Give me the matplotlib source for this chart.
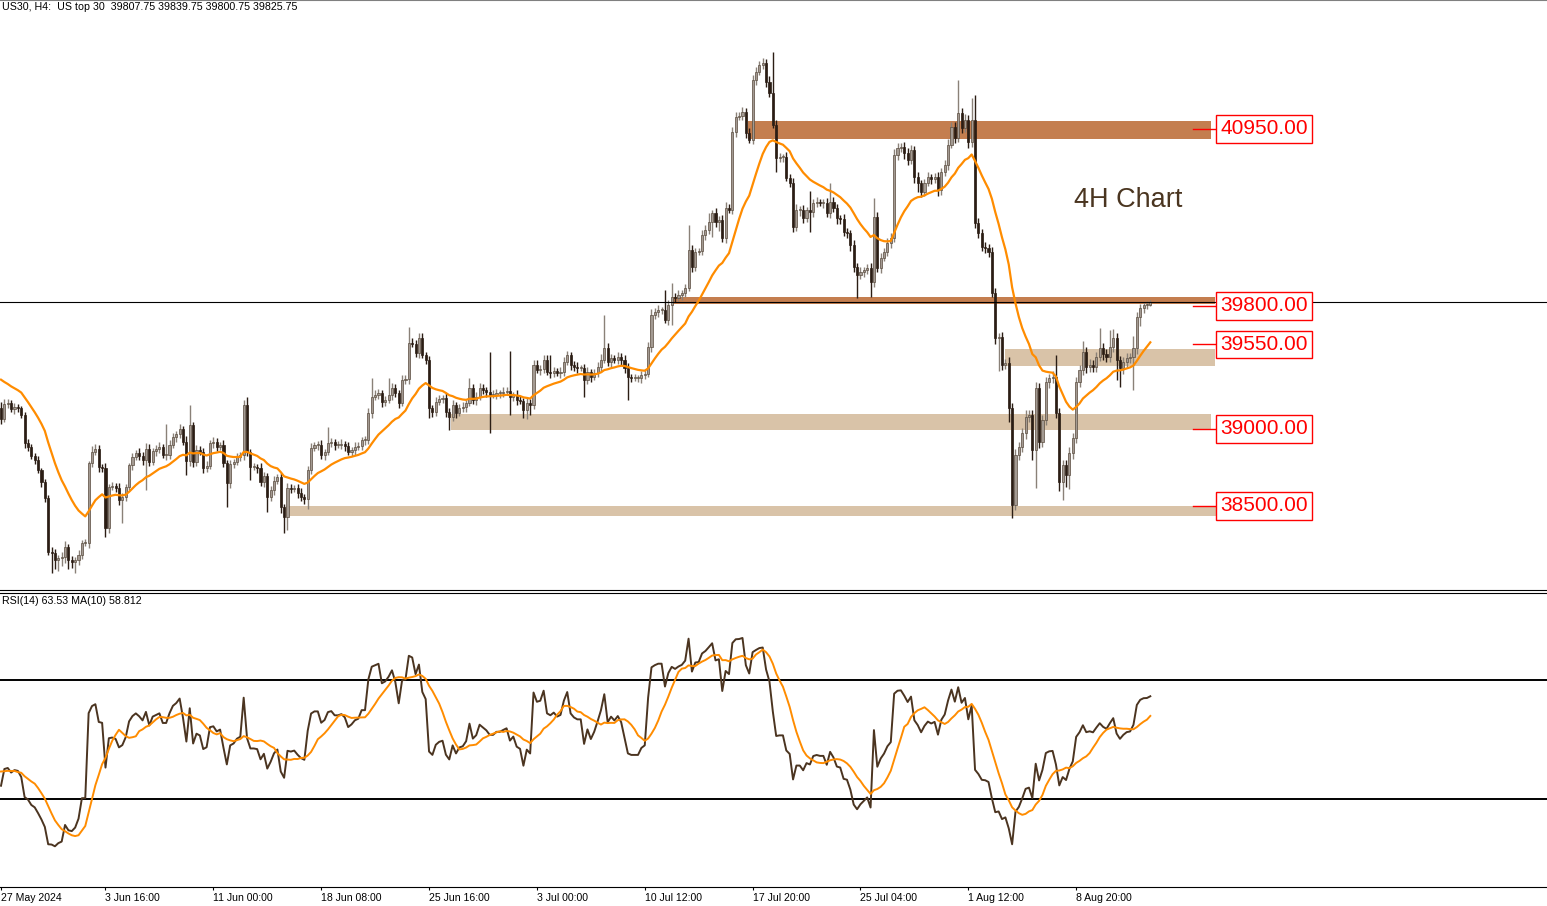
import numpy as np
import pandas as pd
import matplotlib
matplotlib.use("Agg")
import matplotlib.pyplot as plt
from matplotlib.patches import Rectangle

plt.rcParams['font.family'] = ['Liberation Sans', 'DejaVu Sans']

# US30 H4 closes (one per 4h bar)
# a few bars before the window, only so the EMA(20) / RSI(14) start where they do
prior_closes = [39514, 39579, 39475, 39540, 39436, 39501, 39397, 39462, 39371, 39436,
                39332, 39410, 39319, 39371, 39267, 39345, 39241, 39293, 39189, 39137]

closes = [
    39065, 39163, 39169, 39130, 39143, 39137, 39091, 38909, 38883, 38825,
    38799, 38734, 38656, 38552, 38201, 38194, 38149, 38162, 38168, 38233,
    38149, 38136, 38149, 38181, 38259, 38259, 38779, 38851, 38870, 38753,
    38747, 38357, 38623, 38630, 38617, 38539, 38558, 38623, 38766, 38818,
    38844, 38825, 38799, 38870, 38786, 38857, 38870, 38883, 38831, 38831,
    38896, 38948, 38968, 39000, 38916, 38792, 39026, 38786, 38864, 38851,
    38747, 38760, 38909, 38916, 38883, 38896, 38779, 38649, 38773, 38786,
    38818, 38831, 39156, 38851, 38753, 38753, 38747, 38656, 38695, 38558,
    38604, 38662, 38688, 38493, 38428, 38617, 38610, 38617, 38584, 38558,
    38545, 38734, 38877, 38896, 38896, 38831, 38851, 38909, 38916, 38896,
    38896, 38903, 38890, 38851, 38864, 38883, 38890, 38929, 38929, 39104,
    39208, 39221, 39234, 39176, 39189, 39221, 39267, 39234, 39169, 39319,
    39325, 39559, 39553, 39494, 39592, 39481, 39449, 39137, 39111, 39176,
    39195, 39202, 39111, 39078, 39156, 39104, 39137, 39143, 39169, 39267,
    39189, 39208, 39267, 39254, 39241, 39221, 39221, 39234, 39234, 39241,
    39247, 39208, 39221, 39189, 39182, 39124, 39169, 39156, 39416, 39384,
    39390, 39449, 39371, 39364, 39377, 39364, 39371, 39436, 39481, 39416,
    39403, 39397, 39397, 39319, 39371, 39338, 39364, 39403, 39449, 39527,
    39436, 39462, 39449, 39468, 39449, 39397, 39338, 39332, 39332, 39332,
    39351, 39358, 39533, 39741, 39761, 39774, 39774, 39709, 39806, 39858,
    39852, 39871, 39884, 39917, 40164, 40053, 40151, 40157, 40261, 40294,
    40346, 40404, 40346, 40359, 40242, 40437, 40424, 40931, 41028, 41035,
    41061, 40924, 40879, 41269, 41321, 41366, 41379, 41256, 41184, 40976,
    40762, 40768, 40768, 40632, 40599, 40313, 40424, 40424, 40372, 40424,
    40411, 40469, 40476, 40469, 40469, 40404, 40476, 40437, 40372, 40365,
    40281, 40274, 40196, 40053, 40001, 40021, 40034, 40047, 39956, 40378,
    40047, 40112, 40151, 40209, 40242, 40781, 40827, 40833, 40794, 40749,
    40814, 40638, 40599, 40541, 40599, 40638, 40625, 40638, 40554, 40671,
    40716, 40846, 40963, 40892, 41054, 40957, 41009, 40866, 41009, 40339,
    40274, 40183, 40177, 40151, 39884, 39592, 39598, 39416, 39429, 39137,
    38506, 38831, 38883, 38974, 39078, 39091, 38864, 39267, 38916, 39059,
    39306, 39332, 39338, 39104, 38656, 38766, 38701, 38844, 38942, 39306,
    39384, 39501, 39403, 39416, 39403, 39468, 39527, 39488, 39468, 39533,
    39592, 39449, 39397, 39436, 39462, 39468, 39527, 39728, 39787, 39806,
    39808, 39825.75,
]

# wick lengths above / below the body, in points
up_wick = [
    40, 30, 25, 20, 25, 20, 15, 20, 25, 20,
    20, 25, 15, 20, 20, 30, 25, 20, 35, 40,
    20, 25, 20, 30, 20, 25, 15, 40, 30, 25,
    20, 30, 20, 25, 20, 30, 25, 20, 15, 25,
    20, 30, 25, 40, 30, 20, 25, 30, 20, 200,
    30, 25, 20, 35, 20, 40, 130, 20, 30, 25,
    25, 30, 20, 35, 25, 20, 30, 20, 25, 20,
    25, 20, 33, 52, 20, 25, 20, 30, 25, 20,
    25, 30, 20, 25, 20, 30, 25, 20, 25, 30,
    20, 25, 30, 20, 25, 30, 20, 105, 25, 20,
    25, 30, 20, 25, 20, 30, 25, 20, 25, 30,
    125, 30, 25, 20, 25, 110, 30, 25, 20, 35,
    25, 105, 30, 25, 35, 30, 20, 25, 20, 30,
    25, 20, 30, 25, 35, 20, 25, 30, 20, 65,
    25, 30, 35, 25, 20, 260, 30, 25, 20, 30,
    25, 260, 20, 30, 25, 20, 30, 25, 35, 30,
    25, 30, 30, 110, 25, 20, 30, 35, 25, 20,
    25, 30, 20, 25, 30, 20, 25, 30, 40, 215,
    30, 25, 20, 30, 25, 35, 30, 20, 25, 20,
    25, 30, 35, 40, 25, 30, 20, 130, 30, 90,
    25, 30, 20, 25, 160, 30, 25, 20, 35, 30,
    58, 20, 30, 25, 30, 40, 25, 35, 30, 25,
    30, 25, 30, 35, 30, 25, 30, 25, 40, 267,
    30, 25, 20, 30, 25, 30, 40, 25, 30, 20,
    120, 25, 30, 20, 25, 35, 124, 30, 25, 20,
    30, 25, 20, 30, 25, 30, 20, 25, 30, 124,
    35, 30, 25, 30, 35, 40, 30, 25, 30, 35,
    30, 25, 30, 20, 25, 30, 20, 25, 30, 25,
    35, 40, 30, 35, 215, 30, 40, 35, 140, 160,
    30, 25, 30, 25, 35, 30, 25, 30, 25, 40,
    30, 40, 30, 35, 45, 30, 35, 40, 30, 35,
    30, 25, 40, 143, 30, 35, 30, 40, 35, 30,
    35, 70, 30, 40, 30, 35, 130, 30, 35, 110,
    60, 30, 25, 35, 30, 25, 80, 30, 25, 20,
    25, 14,
]
down_wick = [
    30, 20, 25, 20, 30, 25, 20, 30, 25, 20,
    25, 20, 30, 25, 20, 130, 60, 70, 50, 40,
    60, 40, 70, 30, 25, 20, 30, 25, 20, 30,
    25, 60, 30, 20, 25, 30, 150, 25, 20, 30,
    20, 25, 30, 195, 25, 20, 30, 25, 20, 30,
    25, 20, 30, 25, 20, 90, 30, 30, 25, 20,
    30, 25, 20, 30, 25, 20, 25, 155, 30, 25,
    20, 25, 30, 25, 85, 20, 30, 25, 30, 100,
    25, 30, 20, 40, 105, 85, 25, 20, 30, 25,
    30, 65, 25, 20, 30, 25, 30, 20, 25, 30,
    20, 25, 30, 20, 25, 30, 20, 25, 30, 25,
    30, 20, 25, 30, 25, 20, 30, 25, 35, 20,
    25, 30, 20, 25, 30, 20, 25, 65, 30, 25,
    20, 25, 30, 85, 25, 30, 20, 25, 30, 20,
    25, 30, 20, 25, 30, 247, 20, 25, 30, 25,
    20, 117, 25, 30, 20, 52, 60, 65, 25, 20,
    30, 25, 20, 30, 25, 20, 30, 25, 20, 30,
    25, 30, 20, 110, 25, 30, 20, 25, 30, 20,
    25, 30, 20, 25, 30, 35, 150, 25, 20, 25,
    30, 25, 20, 30, 25, 30, 25, 20, 30, 130,
    25, 20, 30, 25, 20, 30, 25, 20, 25, 30,
    25, 100, 30, 60, 25, 30, 20, 25, 30, 20,
    25, 30, 20, 25, 30, 20, 25, 30, 25, 20,
    90, 25, 30, 20, 25, 30, 25, 40, 30, 25,
    130, 30, 25, 20, 30, 25, 30, 25, 40, 30,
    25, 30, 40, 30, 150, 25, 30, 25, 100, 30,
    25, 30, 20, 25, 30, 25, 30, 25, 40, 30,
    25, 40, 60, 30, 25, 20, 30, 25, 40, 30,
    25, 30, 20, 30, 25, 30, 25, 40, 30, 35,
    30, 25, 30, 35, 25, 40, 215, 30, 25, 90,
    85, 30, 35, 30, 40, 35, 65, 247, 40, 30,
    35, 40, 30, 30, 60, 117, 80, 90, 40, 35,
    30, 35, 40, 30, 35, 30, 25, 40, 30, 35,
    30, 130, 125, 40, 35, 30, 215, 40, 60, 30,
    25, 7,
]
last_open = 39807.75
last_price = 39825.75

tick_idx = [0, 31, 63, 95, 127, 159, 191, 223, 255, 287, 319]
tick_labels = ["27 May 2024", "3 Jun 16:00", "11 Jun 00:00", "18 Jun 08:00",
               "25 Jun 16:00", "3 Jul 00:00", "10 Jul 12:00", "17 Jul 20:00",
               "25 Jul 04:00", "1 Aug 12:00", "8 Aug 20:00"]

# support / resistance zones (bar index span, price span)
zone_levels = [40950, 39800, 39550, 39000, 38500]
zone_low = [40885, 39812, 39409, 38993, 38434]
zone_high = [41002, 39858, 39520, 39097, 38499]
zone_from = [221.7, 199.1, 297.9, 133.5, 84.6]
zone_to = [359.0, 360.2, 360.2, 359.0, 360.5]
zone_dark = [True, True, False, False, False]

# ---- indicators ----
allc = np.array(prior_closes + closes, dtype=float)
npre = len(prior_closes)
ema20 = pd.Series(allc).ewm(span=20, adjust=False).mean().values[npre:]


def rsi_wilder(c, n=14):
    d = np.diff(c)
    g = np.clip(d, 0, None)
    l = np.clip(-d, 0, None)
    out = np.full(len(c), np.nan)
    ag = g[:n].mean()
    al = l[:n].mean()
    out[n] = 100 * ag / (ag + al)
    for k in range(n, len(d)):
        ag = (ag * (n - 1) + g[k]) / n
        al = (al * (n - 1) + l[k]) / n
        out[k + 1] = 100 * ag / (ag + al)
    return out


rsi_all = rsi_wilder(allc)
rsi_ma_all = pd.Series(rsi_all).rolling(10, min_periods=1).mean().values
rsi = rsi_all[npre:]
rsi_ma = rsi_ma_all[npre:]

c = np.array(closes, dtype=float)
o = np.r_[prior_closes[-1], c[:-1]]
o[-1] = last_open
hi = np.maximum(o, c) + np.array(up_wick)
lo = np.minimum(o, c) - np.array(down_wick)
x = np.arange(len(c))
bull = c >= o

# ---- figure ----
W, H = 1547, 906
fig = plt.figure(figsize=(W / 100, H / 100), dpi=100)
ax = fig.add_axes([0, 1 - 590 / H, 1, 590 / H])
ax2 = fig.add_axes([0, 1 - 887 / H, 1, 294 / H])

xlim = (-0.3, 458.7)
dark_zone = '#c47e4f'
light_zone = '#d9c3a8'
orange = '#ff8c00'

for lv, zl, zh, zf, zt, dk in zip(zone_levels, zone_low, zone_high, zone_from, zone_to, zone_dark):
    ax.add_patch(Rectangle((zf, zl), zt - zf, zh - zl, facecolor=dark_zone if dk else light_zone,
                           lw=0, zorder=1))

wick_col = np.where(bull, '#8a8178', '#2b1d14')
body_col = np.where(bull, '#a39a92', '#2b1d14')
edge_col = np.where(bull, '#5b4d40', '#2b1d14')
ax.vlines(x, lo, hi, colors=wick_col, lw=1, zorder=2)
ax.bar(x, np.maximum(np.abs(c - o), 5), bottom=np.minimum(o, c), width=0.62,
       color=body_col, edgecolor=edge_col, linewidth=0.5, zorder=2.2)
ax.plot(x, ema20, color=orange, lw=1.6, zorder=3)
ax.axhline(last_price, color='black', lw=0.8, zorder=2.5)

for lv in zone_levels:
    ax.plot([353.7, 360.2], [lv, lv], color='red', lw=1, zorder=3)
    ax.text(374.8, lv, f"{lv:.2f}", color='red', fontsize=15, ha='center', va='center',
            zorder=5, bbox=dict(boxstyle='square,pad=0.2', fc='white', ec='red', lw=1))

ax.text(334.4, 40488, "4H Chart", color='#4a3520', fontsize=19.5, ha='center', va='center')

ax.set_xlim(*xlim)
ax.set_ylim(37953.5, 41788.5)
ax.set_xticks([])
ax.set_yticks([])
for s in ['left', 'right']:
    ax.spines[s].set_visible(False)
ax.spines['top'].set_color('#808080')
ax.spines['bottom'].set_color('black')

# RSI panel
ax2.axhline(70, color='black', lw=1.4)
ax2.axhline(30, color='black', lw=1.4)
ax2.plot(x, rsi, color='#4b3420', lw=1.4, zorder=3)
ax2.plot(x, rsi_ma, color=orange, lw=1.4, zorder=3)
ax2.set_xlim(*xlim)
ax2.set_ylim(0.4, 99.2)
ax2.set_yticks([])
for s in ['left', 'right']:
    ax2.spines[s].set_visible(False)
ax2.set_xticks(tick_idx)
ax2.set_xticklabels(tick_labels, ha='left')
ax2.tick_params(axis='x', direction='out', length=2.2, width=0.8, labelsize=7.6, pad=2)

fig.text(2 / W, 1 - 7 / H, "US30, H4:  US top 30  39807.75 39839.75 39800.75 39825.75",
         fontsize=7.7, va='center', ha='left')
fig.text(2 / W, 1 - 601 / H, "RSI(14) 63.53 MA(10) 58.812", fontsize=7.7, va='center', ha='left')

fig.savefig("out.png", dpi=100)
